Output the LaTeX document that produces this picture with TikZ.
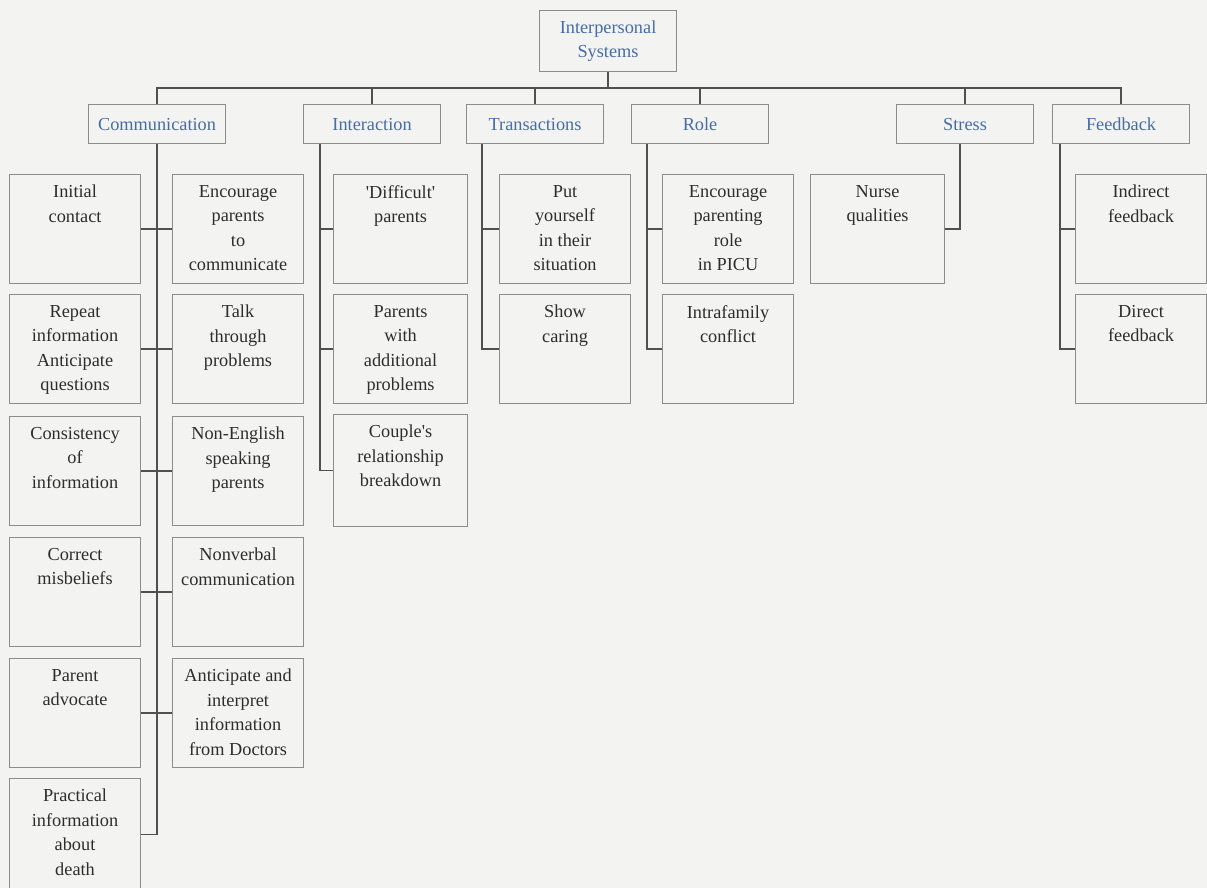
\documentclass[tikz,border=0pt]{standalone}
\usepackage{fontspec}
\setmainfont{Liberation Serif}
\usetikzlibrary{positioning}
\usetikzlibrary{calc}

\definecolor{paper}{RGB}{243,243,241}
\definecolor{boxline}{RGB}{140,140,140}
\definecolor{wire}{RGB}{80,80,80}
\definecolor{headblue}{RGB}{70,108,168}
\definecolor{ink}{RGB}{45,45,45}
\newcommand\boxfont{\fontsize{18.3}{24.5}\selectfont}

\tikzset{
  head/.style={draw=boxline, line width=1.1pt, text=headblue, font=\boxfont,
    minimum width=137pt, minimum height=39pt, inner sep=0pt, anchor=north west},
  cell/.style={draw=boxline, line width=1.1pt, minimum width=131pt,
    minimum height=109pt, inner sep=0pt, anchor=north west},
  celltext/.style={anchor=north, align=center, text=ink, font=\boxfont,
    inner sep=0pt, yshift=-11pt},
  wire/.style={draw=wire, line width=1.2pt}
}

\begin{document}
\begin{tikzpicture}[x=1pt, y=-1pt]
\fill[paper] (0,0) rectangle (1207,888);
\useasboundingbox (0,0) rectangle (1207,888);

\node[head, minimum height=61pt, align=center] (root) at (539,10) {Interpersonal\\Systems};

\node[head] (comm) at (88,104) {Communication};
\node[head] (inter) at (303,104) {Interaction};
\node[head] (trans) at (466,104) {Transactions};
\node[head] (role) at (631,104) {Role};
\node[head] (stress) at (896,104) {Stress};
\node[head] (feed) at (1052,104) {Feedback};

% communication
\node[cell, label={[celltext]north:{Initial\\contact}}] (c1) at (9,174) {};
\node[cell, label={[celltext]north:{Repeat\\information\\Anticipate\\questions}}] (c2) at (9,294) {};
\node[cell, label={[celltext]north:{Consistency\\of\\information}}] (c3) at (9,416) {};
\node[cell, label={[celltext]north:{Correct\\misbeliefs}}] (c4) at (9,537) {};
\node[cell, label={[celltext]north:{Parent\\advocate}}] (c5) at (9,658) {};
\node[cell, minimum height=112pt, label={[celltext]north:{Practical\\information\\about\\death}}] (c6) at (9,778) {};

\node[cell, label={[celltext]north:{Encourage\\parents\\to\\communicate}}] (d1) at (172,174) {};
\node[cell, label={[celltext]north:{Talk\\through\\problems}}] (d2) at (172,294) {};
\node[cell, label={[celltext]north:{Non-English\\speaking\\parents}}] (d3) at (172,416) {};
\node[cell, label={[celltext]north:{Nonverbal\\communication}}] (d4) at (172,537) {};
\node[cell, label={[celltext]north:{Anticipate and\\interpret\\information\\from Doctors}}] (d5) at (172,658) {};

% interaction
\node[cell, minimum width=134pt, label={[celltext]north:{\textquotesingle Difficult\textquotesingle\\parents}}] (i1) at (333,174) {};
\node[cell, minimum width=134pt, label={[celltext]north:{Parents\\with\\additional\\problems}}] (i2) at (333,294) {};
\node[cell, minimum width=134pt, minimum height=112pt, label={[celltext]north:{Couple\textquotesingle s\\relationship\\breakdown}}] (i3) at (333,414) {};

% transactions, role
\node[cell, label={[celltext]north:{Put\\yourself\\in their\\situation}}] (t1) at (499,174) {};
\node[cell, label={[celltext]north:{Show\\caring}}] (t2) at (499,294) {};
\node[cell, label={[celltext]north:{Encourage\\parenting\\role\\in PICU}}] (r1) at (662,174) {};
\node[cell, label={[celltext]north:{Intrafamily\\conflict}}] (r2) at (662,294) {};

% stress, feedback
\node[cell, minimum width=134pt, label={[celltext]north:{Nurse\\qualities}}] (s1) at (810,174) {};
\node[cell, label={[celltext]north:{Indirect\\feedback}}] (f1) at (1075,174) {};
\node[cell, label={[celltext]north:{Direct\\feedback}}] (f2) at (1075,294) {};

% top level
\coordinate (bus) at (607,88);
\draw[wire] (root.south) -- (root.south |- bus);
\draw[wire] (comm.north) |- (bus) -| (feed.north);
\foreach \n in {inter,trans,role,stress}
  \draw[wire] (\n.north) -- (\n.north |- bus);

\draw[wire] (comm.south) |- (c6.east);
\foreach \a/\b in {c1/d1,c2/d2,c3/d3,c4/d4,c5/d5}
  \draw[wire] (\a.east) -- (\b.west);

\coordinate (iv) at ([xshift=17pt]inter.south west);
\draw[wire] (iv) |- (i3.west);
\foreach \k in {i1,i2}
  \draw[wire] (\k.west) -- (iv |- \k.west);

\coordinate (tv) at ([xshift=16pt]trans.south west);
\draw[wire] (tv) |- (t2.west);
\draw[wire] (t1.west) -- (tv |- t1.west);

\coordinate (rv) at ([xshift=16pt]role.south west);
\draw[wire] (rv) |- (r2.west);
\draw[wire] (r1.west) -- (rv |- r1.west);

\draw[wire] ([xshift=-5pt]stress.south) |- (s1.east);

\coordinate (fv) at ([xshift=8pt]feed.south west);
\draw[wire] (fv) |- (f2.west);
\draw[wire] (f1.west) -- (fv |- f1.west);
\end{tikzpicture}
\end{document}
